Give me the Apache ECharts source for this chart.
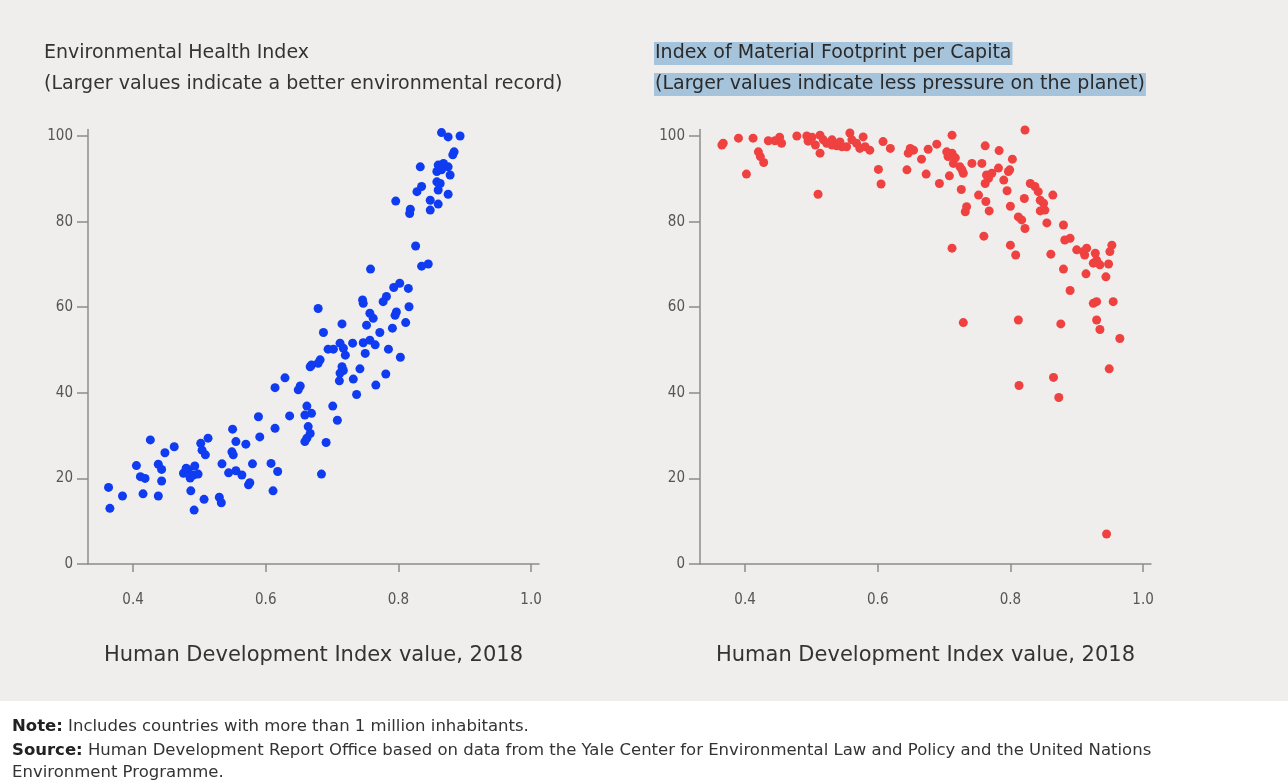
<!DOCTYPE html>
<html>
<head>
<meta charset="utf-8">
<title>HDI vs environment</title>
<script src="https://cdn.jsdelivr.net/npm/echarts@6/dist/echarts.min.js"></script>
<style>
  html, body { margin: 0; padding: 0; background: #fff; }
  #chart { width: 1288px; height: 784px; }
</style>
</head>
<body>
<div id="chart"></div>
<script>
// left panel: HDI value vs Environmental Health Index
const hdiEnv = [
  0.865, 0.875, 0.893, 0.884, 0.882, 0.833, 0.860, 0.868, 0.875, 0.858,
  0.865, 0.878, 0.858, 0.863, 0.835, 0.828, 0.860, 0.875, 0.796, 0.848,
  0.860, 0.848, 0.818, 0.817, 0.826, 0.835, 0.845, 0.758, 0.802, 0.793,
  0.815, 0.746, 0.747, 0.782, 0.777, 0.816, 0.797, 0.795, 0.757, 0.762,
  0.679, 0.752, 0.715, 0.811, 0.791, 0.772, 0.687, 0.731, 0.747, 0.757,
  0.765, 0.712, 0.717, 0.702, 0.694, 0.720, 0.750, 0.785, 0.803, 0.682,
  0.679, 0.669, 0.667, 0.715, 0.717, 0.712, 0.711, 0.742, 0.732, 0.781,
  0.766, 0.737, 0.629, 0.614, 0.652, 0.649, 0.662, 0.659, 0.669, 0.701,
  0.708, 0.636, 0.589, 0.614, 0.664, 0.667, 0.662, 0.659, 0.691, 0.591,
  0.550, 0.570, 0.555, 0.549, 0.551, 0.513, 0.502, 0.504, 0.509, 0.462,
  0.448, 0.426, 0.405, 0.438, 0.443, 0.411, 0.418, 0.443, 0.363, 0.384,
  0.415, 0.438, 0.476, 0.483, 0.491, 0.498, 0.493, 0.487, 0.534, 0.544,
  0.555, 0.564, 0.580, 0.576, 0.574, 0.608, 0.618, 0.611, 0.684, 0.507,
  0.530, 0.365, 0.492, 0.533, 0.480, 0.486
];
const envHealth = [
  100.8, 99.8, 100.0, 96.3, 95.6, 92.8, 93.2, 93.6, 92.8, 91.7,
  92.1, 90.9, 89.3, 88.9, 88.2, 87.0, 87.4, 86.4, 84.8, 85.0,
  84.1, 82.7, 82.9, 81.9, 74.3, 69.6, 70.1, 68.9, 65.6, 64.6,
  64.4, 61.7, 60.9, 62.5, 61.3, 60.1, 58.9, 58.1, 58.6, 57.4,
  59.7, 55.8, 56.1, 56.4, 55.1, 54.1, 54.1, 51.6, 51.7, 52.3,
  51.2, 51.6, 50.4, 50.2, 50.2, 48.8, 49.2, 50.2, 48.3, 47.7,
  46.9, 46.5, 46.1, 46.1, 45.2, 44.6, 42.8, 45.6, 43.2, 44.4,
  41.8, 39.6, 43.5, 41.2, 41.6, 40.7, 36.9, 34.8, 35.2, 36.9,
  33.6, 34.6, 34.4, 31.7, 32.1, 30.5, 29.4, 28.6, 28.4, 29.7,
  31.5, 28.0, 28.6, 26.2, 25.5, 29.4, 28.2, 26.6, 25.5, 27.4,
  26.0, 29.0, 23.0, 23.3, 22.1, 20.4, 20.0, 19.4, 17.9, 15.9,
  16.4, 15.9, 21.2, 22.0, 20.8, 21.0, 22.9, 17.1, 23.4, 21.3,
  21.8, 20.8, 23.4, 19.0, 18.5, 23.5, 21.6, 17.1, 21.0, 15.1,
  15.6, 13.0, 12.6, 14.3, 22.4, 20.1
];

// right panel: HDI value vs Index of Material Footprint per Capita
const hdiMat = [
  0.365, 0.367, 0.390, 0.412, 0.402, 0.420, 0.423, 0.428, 0.435, 0.452,
  0.455, 0.445, 0.478, 0.493, 0.501, 0.506, 0.513, 0.518, 0.523, 0.531,
  0.538, 0.546, 0.553, 0.513, 0.510, 0.558, 0.561, 0.568, 0.578, 0.581,
  0.588, 0.573, 0.601, 0.605, 0.608, 0.619, 0.644, 0.649, 0.646, 0.654,
  0.666, 0.673, 0.676, 0.689, 0.693, 0.704, 0.706, 0.712, 0.714, 0.708,
  0.712, 0.724, 0.729, 0.727, 0.726, 0.712, 0.734, 0.732, 0.742, 0.757,
  0.752, 0.762, 0.764, 0.762, 0.767, 0.772, 0.763, 0.768, 0.760, 0.783,
  0.782, 0.790, 0.797, 0.799, 0.795, 0.803, 0.800, 0.822, 0.812, 0.817,
  0.822, 0.821, 0.800, 0.808, 0.830, 0.837, 0.842, 0.845, 0.850, 0.852,
  0.845, 0.864, 0.855, 0.880, 0.882, 0.890, 0.861, 0.880, 0.890, 0.900,
  0.910, 0.915, 0.912, 0.928, 0.930, 0.925, 0.935, 0.948, 0.953, 0.950,
  0.914, 0.944, 0.925, 0.930, 0.955, 0.965, 0.930, 0.935, 0.876, 0.812,
  0.729, 0.949, 0.865, 0.813, 0.873, 0.945, 0.531, 0.543, 0.495, 0.717
];
const matFootprint = [
  97.9, 98.3, 99.5, 99.5, 91.1, 96.3, 95.2, 93.8, 98.9, 99.7,
  98.3, 98.9, 100.0, 100.0, 99.7, 97.9, 100.2, 99.1, 98.3, 97.9,
  97.7, 97.5, 97.5, 96.0, 86.4, 100.7, 99.1, 98.3, 99.8, 97.5,
  96.7, 97.1, 92.2, 88.8, 98.7, 97.1, 92.1, 97.1, 96.0, 96.7,
  94.6, 91.1, 96.9, 98.1, 88.9, 96.3, 95.2, 96.0, 93.6, 90.7,
  100.2, 92.8, 91.3, 92.1, 87.5, 73.8, 83.5, 82.3, 93.6, 93.6,
  86.2, 97.7, 90.9, 88.9, 90.1, 91.3, 84.7, 82.5, 76.6, 96.6,
  92.5, 89.7, 91.7, 92.1, 87.2, 94.6, 83.6, 101.4, 81.1, 80.4,
  78.4, 85.4, 74.5, 72.2, 88.9, 88.2, 87.0, 85.0, 84.3, 82.7,
  82.5, 86.2, 79.7, 79.2, 75.7, 76.1, 72.4, 68.9, 63.9, 73.4,
  73.0, 73.8, 72.2, 72.6, 71.0, 70.3, 69.9, 70.1, 74.5, 73.0,
  67.8, 67.1, 60.9, 61.3, 61.3, 52.7, 57.0, 54.8, 56.1, 57.0,
  56.4, 45.6, 43.6, 41.7, 38.9, 7.0, 99.1, 98.6, 98.8, 94.9
];

const xTicks = [0.4, 0.6, 0.8, 1.0];
const yTicks = [0, 20, 40, 60, 80, 100];

const leftTitle = ['Environmental Health Index', '(Larger values indicate a better environmental record)'];
const rightTitle = ['Index of Material Footprint per Capita', '(Larger values indicate less pressure on the planet)'];
const xName = 'Human Development Index value, 2018';

const pairs = (xs, ys) => xs.map((x, i) => [x, ys[i]]);

const chart = echarts.init(document.getElementById('chart'), null, { renderer: 'canvas' });

const axisGray = '#8c8c8c';
const labelFont = '"Liberation Sans Narrow", "DejaVu Sans Condensed", sans-serif';
const textFont = '"DejaVu Sans", sans-serif';

function makeX(gridIndex) {
  return {
    type: 'value',
    gridIndex: gridIndex,
    min: 0.332,
    max: 1.012,
    name: xName,
    nameLocation: 'middle',
    nameGap: 81,
    nameTextStyle: { color: '#333', fontSize: 21, fontFamily: textFont },
    axisLine: { show: true, lineStyle: { color: axisGray, width: 1.5 } },
    axisTick: { show: true, length: 8, customValues: xTicks, lineStyle: { color: axisGray, width: 1.5 } },
    axisLabel: {
      customValues: xTicks,
      margin: 29,
      color: '#555',
      fontSize: 15,
      fontFamily: labelFont,
      formatter: v => v.toFixed(1)
    },
    splitLine: { show: false }
  };
}

function makeY(gridIndex) {
  return {
    type: 'value',
    gridIndex: gridIndex,
    min: 0,
    max: 101.5,
    axisLine: { show: true, lineStyle: { color: axisGray, width: 1.5 } },
    axisTick: { show: true, length: 11, customValues: yTicks, lineStyle: { color: axisGray, width: 1.5 } },
    axisLabel: {
      customValues: yTicks,
      margin: 15,
      color: '#555',
      fontSize: 15,
      fontFamily: labelFont
    },
    splitLine: { show: false }
  };
}

const boldPart = { fontWeight: 'bold', fontSize: 16.5, fontFamily: textFont, fill: '#222' };

const option = {
  backgroundColor: '#fff',
  animation: false,
  graphic: [
    {
      type: 'rect',
      z: -10,
      silent: true,
      shape: { x: 0, y: 0, width: 1288, height: 701 },
      style: { fill: '#efeeec' }
    },
    {
      type: 'text',
      left: 12,
      top: 718,
      style: {
        text: '{b|Note:} Includes countries with more than 1 million inhabitants.',
        rich: { b: boldPart },
        fontSize: 16.5,
        fontFamily: textFont,
        fill: '#333'
      }
    },
    {
      type: 'text',
      left: 12,
      top: 740,
      style: {
        text: '{b|Source:} Human Development Report Office based on data from the Yale Center for Environmental Law and Policy and the United Nations\nEnvironment Programme.',
        rich: { b: boldPart },
        fontSize: 16.5,
        lineHeight: 22,
        fontFamily: textFont,
        fill: '#333'
      }
    }
  ],
  title: [
    {
      text: leftTitle.join('\n'),
      left: 44,
      top: 38,
      padding: 0,
      textStyle: { color: '#333', fontSize: 19, fontWeight: 'normal', lineHeight: 31, fontFamily: textFont }
    },
    {
      text: rightTitle.map(t => '{hl|' + t + '}').join('\n'),
      left: 654,
      top: 38,
      padding: 0,
      textStyle: {
        color: '#2a2a2a',
        fontSize: 19,
        fontWeight: 'normal',
        lineHeight: 31,
        fontFamily: textFont,
        rich: {
          hl: {
            color: '#2a2a2a',
            fontSize: 19,
            lineHeight: 31,
            fontFamily: textFont,
            backgroundColor: '#a5c3db',
            padding: [2, 1, 2, 1]
          }
        }
      }
    }
  ],
  grid: [
    { left: 88, top: 129.6, width: 451, height: 434.4, outerBoundsMode: 'none' },
    { left: 700, top: 129.6, width: 451, height: 434.4, outerBoundsMode: 'none' }
  ],
  xAxis: [makeX(0), makeX(1)],
  yAxis: [makeY(0), makeY(1)],
  series: [
    {
      name: 'Environmental Health Index',
      type: 'scatter',
      xAxisIndex: 0,
      yAxisIndex: 0,
      symbolSize: 9,
      itemStyle: { color: '#0f3cf0', opacity: 1 },
      data: pairs(hdiEnv, envHealth)
    },
    {
      name: 'Index of Material Footprint per Capita',
      type: 'scatter',
      xAxisIndex: 1,
      yAxisIndex: 1,
      symbolSize: 9,
      itemStyle: { color: '#f04141', opacity: 1 },
      data: pairs(hdiMat, matFootprint)
    }
  ]
};

chart.setOption(option);
</script>
</body>
</html>
